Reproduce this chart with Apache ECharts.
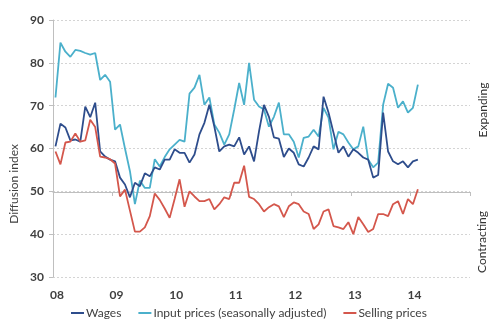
<!DOCTYPE html>
<html>
<head>
<meta charset="utf-8">
<script src="https://cdn.jsdelivr.net/npm/echarts@6/dist/echarts.min.js"></script>
<style>
  html, body { margin: 0; padding: 0; background: #ffffff; }
  #chart { width: 495px; height: 335px; }
</style>
</head>
<body>
<div id="chart"></div>
<script>
// Monthly diffusion indices, January 2008 to February 2014
const yearLabels = ['08', '09', '10', '11', '12', '13', '14'];

const wages = [
  60.5, 65.8, 64.9, 61.9, 62.1, 61.6, 69.8, 67.3, 70.7, 59.3, 58.1, 57.4,
  57.0, 53.2, 51.6, 48.6, 52.0, 51.2, 54.2, 53.5, 55.6, 55.1, 57.4, 57.4,
  59.8, 59.0, 59.0, 56.7, 58.6, 63.3, 66.0, 70.2, 65.1, 59.3, 60.5, 60.9,
  60.5, 62.6, 58.6, 60.5, 57.0, 64.0, 70.2, 67.4, 62.6, 62.3, 58.0, 60.0,
  59.0, 56.3, 55.8, 57.9, 60.5, 59.8, 72.1, 68.4, 63.7, 59.0, 60.5, 58.1,
  59.8, 59.0, 57.9, 57.4, 53.2, 53.8, 68.4, 59.3, 57.0, 56.3, 57.0, 55.6,
  57.0, 57.4
];

const inputPrices = [
  71.9, 84.7, 82.6, 81.4, 83.0, 82.8, 82.3, 81.9, 82.3, 76.0, 77.2, 75.6,
  64.4, 65.6, 60.0, 54.7, 47.0, 52.5, 50.8, 50.8, 57.5, 55.8, 58.0, 59.8,
  60.9, 62.0, 61.6, 72.8, 74.2, 77.2, 70.2, 71.9, 65.6, 63.7, 60.9, 63.3,
  69.1, 75.3, 70.2, 80.0, 71.4, 69.8, 69.1, 65.1, 67.4, 70.7, 63.3, 63.3,
  61.6, 57.9, 62.5, 62.8, 64.4, 62.8, 69.5, 67.2, 59.8, 63.9, 63.3, 61.4,
  59.8, 60.5, 65.1, 57.4, 55.6, 56.7, 70.2, 75.1, 74.2, 69.5, 71.0, 68.4,
  69.5, 74.9
];

const sellingPrices = [
  59.3, 56.3, 61.4, 61.6, 63.5, 61.6, 61.9, 66.7, 65.0, 58.1, 57.9, 57.5,
  56.5, 48.8, 50.4, 45.5, 40.6, 40.6, 41.6, 44.2, 49.5, 48.0, 46.0, 43.8,
  48.2, 52.8, 46.4, 50.0, 48.8, 47.7, 47.7, 48.2, 45.8, 47.0, 48.6, 48.2,
  52.0, 52.0, 56.0, 48.7, 48.2, 47.0, 45.3, 46.3, 47.0, 46.5, 44.0, 46.5,
  47.4, 47.0, 45.3, 44.7, 41.2, 42.3, 45.3, 45.8, 41.9, 41.6, 41.2, 42.8,
  40.0, 44.0, 42.3, 40.5, 41.2, 44.7, 44.7, 44.2, 47.0, 47.7, 44.7, 48.2,
  47.0, 50.5
];

const seriesNames = ['Wages', 'Input prices (seasonally adjusted)', 'Selling prices'];
const seriesColors = ['#2e4d8c', '#4bb0cb', '#d4574c'];

const FONT = 'Lato, "Open Sans", sans-serif';
const TEXT = '#404040';
const GRID = { left: 53, right: 25, top: 20, bottom: 58 };

// each month is plotted at the middle of its slot on a month-count axis
const toPoints = arr => arr.map((v, i) => [i + 0.5, v]);

const chart = echarts.init(document.getElementById('chart'), null, { renderer: 'canvas' });

chart.setOption({
  backgroundColor: '#ffffff',
  animation: false,
  grid: [
    GRID,
    // thin strip holding the axis line that crosses at 50
    { left: GRID.left, right: GRID.right, top: 191, height: 1 }
  ],
  xAxis: [
    {
      type: 'value', gridIndex: 0, min: 0, max: 84, interval: 12,
      axisLine: { show: false },
      axisTick: { show: false },
      splitLine: { show: false },
      axisLabel: {
        margin: 12,
        padding: [0, 0, 0, 8],
        color: TEXT, fontFamily: FONT, fontSize: 12, fontWeight: 'bold',
        formatter: v => (v / 12 < yearLabels.length ? yearLabels[v / 12] : '')
      }
    },
    {
      type: 'value', gridIndex: 1, min: 0, max: 84, interval: 12, position: 'top',
      axisLine: { show: true, lineStyle: { color: '#bfbfbf', width: 1 } },
      axisTick: { show: true, inside: true, length: 4, lineStyle: { color: '#bfbfbf' } },
      axisLabel: { show: false },
      splitLine: { show: false }
    }
  ],
  yAxis: [
    {
      type: 'value', gridIndex: 0, min: 30, max: 90, interval: 10,
      axisLine: { show: true, lineStyle: { color: '#bfbfbf', width: 1 } },
      axisTick: { show: true, length: 4, lineStyle: { color: '#bfbfbf' } },
      axisLabel: { margin: 9, color: TEXT, fontFamily: FONT, fontSize: 12, fontWeight: 'bold' },
      splitLine: { show: true, lineStyle: { color: '#d4d4d4', type: [2, 2], width: 1 } }
    },
    { type: 'value', gridIndex: 1, show: false, min: 0, max: 1 }
  ],
  legend: {
    left: 66, top: 302,
    icon: 'rect', itemWidth: 13, itemHeight: 2, itemGap: 17,
    textStyle: { color: TEXT, fontFamily: FONT, fontSize: 12, padding: [0, 0, 0, -3] },
    data: seriesNames
  },
  graphic: [
    {
      type: 'text', x: 14, y: 184, rotation: Math.PI / 2,
      style: { text: 'Diffusion index', align: 'center', verticalAlign: 'middle',
               fill: TEXT, font: '12px ' + FONT }
    },
    {
      type: 'text', x: 483, y: 110, rotation: Math.PI / 2,
      style: { text: 'Expanding', align: 'center', verticalAlign: 'middle',
               fill: '#333333', font: '12px ' + FONT }
    },
    {
      type: 'text', x: 482, y: 242, rotation: Math.PI / 2,
      style: { text: 'Contracting', align: 'center', verticalAlign: 'middle',
               fill: '#333333', font: '12px ' + FONT }
    }
  ],
  series: [
    { name: seriesNames[1], data: toPoints(inputPrices), color: seriesColors[1] },
    { name: seriesNames[0], data: toPoints(wages), color: seriesColors[0] },
    { name: seriesNames[2], data: toPoints(sellingPrices), color: seriesColors[2] }
  ].map(s => ({
    type: 'line', xAxisIndex: 0, yAxisIndex: 0,
    name: s.name, data: s.data,
    showSymbol: false, symbol: 'none',
    itemStyle: { color: s.color },
    lineStyle: { color: s.color, width: 1.8 }
  }))
});
</script>
</body>
</html>
